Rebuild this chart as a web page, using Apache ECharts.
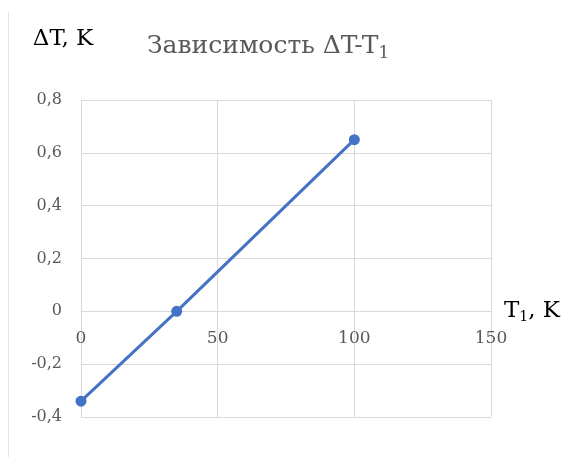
<!DOCTYPE html>
<html>
<head>
<meta charset="utf-8">
<script src="https://cdn.jsdelivr.net/npm/echarts@6/dist/echarts.min.js"></script>
<style>html,body{margin:0;padding:0;background:#fff}#c{width:587px;height:457px}</style>
</head>
<body>
<div id="c"></div>
<script>
var xValues = [0, 35, 100];
var yValues = [-0.34, 0, 0.65];
var xTicks = [0, 50, 100, 150];
var yTicks = [-0.4, -0.2, 0, 0.2, 0.4, 0.6, 0.8];

var W = 587, H = 457;
var gridL = 81, gridR = 96, gridT = 100, gridB = 40;
var yMin = yTicks[0], yMax = yTicks[yTicks.length - 1];
var plotH = H - gridT - gridB;
// move the x axis up to the y = 0 line
var zeroOffset = -plotH * (0 - yMin) / (yMax - yMin);

var chart = echarts.init(document.getElementById('c'));
var serif = 'DejaVu Serif';
chart.setOption({
  animation: false,
  title: {
    text: 'Зависимость ΔT-T{s|1}',
    left: 142, top: 26,
    textStyle: {
      fontFamily: serif, fontSize: 25, fontWeight: 'normal', color: '#595959',
      rich: { s: { fontFamily: serif, fontSize: 17, color: '#595959', padding: [14, 0, 0, 0] } }
    }
  },
  grid: { left: gridL, right: gridR, top: gridT, bottom: gridB },
  xAxis: {
    type: 'value', min: xTicks[0], max: xTicks[xTicks.length - 1], interval: 50,
    offset: zeroOffset,
    name: 'T{s|1}, K', nameLocation: 'end', nameGap: 13,
    nameTextStyle: { fontFamily: serif, fontSize: 23, color: '#000',
      rich: { s: { fontFamily: serif, fontSize: 14, color: '#000', padding: [12, 0, 0, 0] } } },
    axisLine: { onZero: false, lineStyle: { color: '#d9d9d9', width: 1 } },
    axisTick: { show: false },
    axisLabel: { fontFamily: serif, fontSize: 17, color: '#595959', margin: 19 },
    splitLine: { show: true, lineStyle: { color: '#d9d9d9', width: 1 } }
  },
  yAxis: {
    type: 'value', min: yMin, max: yMax, interval: 0.2,
    name: 'ΔT, K', nameLocation: 'end', nameGap: 49,
    nameTextStyle: { fontFamily: serif, fontSize: 23, color: '#000', align: 'center', padding: [0, 36, 0, 0] },
    axisLine: { show: true, onZero: false, lineStyle: { color: '#d9d9d9', width: 1 } },
    axisTick: { show: false },
    axisLabel: { fontFamily: serif, fontSize: 16, color: '#595959', margin: 19,
      formatter: function (v) { return (Math.round(v * 10) / 10).toString().replace('.', ','); } },
    splitLine: { show: true, lineStyle: { color: '#d9d9d9', width: 1 } }
  },
  series: [{
    type: 'line',
    data: xValues.map(function (x, i) { return [x, yValues[i]]; }),
    symbol: 'circle', symbolSize: 11,
    lineStyle: { color: '#4472C4', width: 3 },
    itemStyle: { color: '#4472C4' }
  }],
  graphic: [{
    type: 'line', shape: { x1: 8.5, y1: 12, x2: 8.5, y2: 457 },
    style: { stroke: '#e3e3e3', lineWidth: 1 }
  }]
});
</script>
</body>
</html>
